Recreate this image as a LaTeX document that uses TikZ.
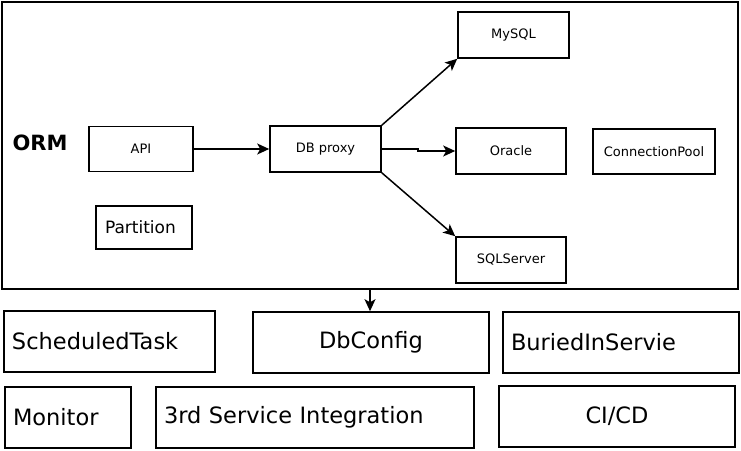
\documentclass[tikz,border=0pt]{standalone}
\usepackage{fontspec}
\setmainfont{DejaVu Sans}
\usetikzlibrary{arrows.meta}
\tikzset{
  box/.style={draw=black, line width=1.6pt, rectangle, inner sep=0pt, align=center},
  small/.style={font=\fontsize{13}{15}\selectfont},
  mid/.style={font=\fontsize{17}{19}\selectfont},
  big/.style={font=\fontsize{22.5}{26}\selectfont},
  lbox/.style={box, align=left, inner xsep=8pt},
  conn/.style={draw=black, line width=1.5pt, -{Stealth[length=12pt, width=11pt, inset=3pt]}}
}
\begin{document}
\begin{tikzpicture}[x=1pt, y=-1pt]
\useasboundingbox (0,0) rectangle (741,450);
% outer ORM container
\node[box, minimum width=736pt, minimum height=287pt] (orm) at (370,145.5) {};
\node[font=\fontsize{21}{25}\selectfont\bfseries, anchor=center] (ormlabel) at (40,143) {ORM};
% inner nodes
\node[box, small, minimum width=104pt, minimum height=45pt] (api) at (141,149) {API};
\node[box, small, minimum width=111pt, minimum height=46pt] (proxy) at (325.5,149) {DB proxy};
\node[lbox, mid, text width=78pt, inner xsep=9pt, minimum height=43pt] (part) at (144,227.5) {Partition};
\node[box, small, minimum width=111pt, minimum height=46pt] (mysql) at (513.5,35) {MySQL};
\node[box, small, minimum width=110pt, minimum height=46pt] (oracle) at (511,151) {Oracle};
\node[box, small, minimum width=122pt, minimum height=45pt] (pool) at (654,151.5) {ConnectionPool};
\node[box, small, minimum width=110pt, minimum height=46pt] (sqls) at (511,260) {SQLServer};
% bottom row nodes
\node[lbox, big, text width=195pt, minimum height=61pt] (sched) at (109.5,341.5) {ScheduledTask};
\node[box, big, minimum width=236pt, minimum height=61pt] (dbc) at (371,342.5) {DbConfig};
\node[lbox, big, text width=220pt, minimum height=61pt] (buried) at (621,342.5) {BuriedInServie};
\node[lbox, big, text width=110pt, minimum height=61pt] (monitor) at (68,417.5) {Monitor};
\node[lbox, big, text width=302pt, minimum height=61pt] (third) at (315,417.5) {3rd Service Integration};
\node[box, big, minimum width=236pt, minimum height=61pt] (cicd) at (617,416.5) {CI/CD};
% connectors
\draw[conn] (api.east) -- (proxy.west);
\draw[conn] (proxy.north east) -- (mysql.south west);
\draw[conn] (proxy.east) -- ++(36,0) |- (oracle.west);
\draw[conn] (proxy.south east) -- (sqls.north west);
\draw[conn] (orm.south) -- (orm.south |- dbc.north);
\end{tikzpicture}
\end{document}
